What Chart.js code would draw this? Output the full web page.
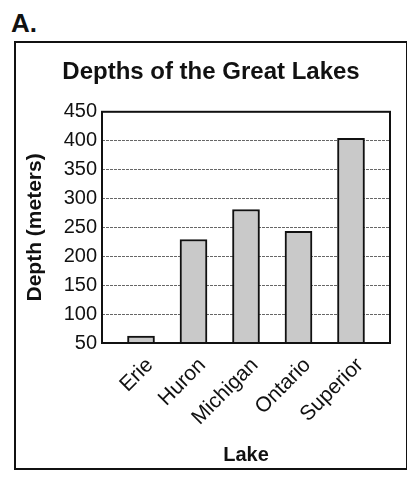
<!DOCTYPE html>
<html>
<head>
<meta charset="utf-8">
<script src="https://cdn.jsdelivr.net/npm/chart.js"></script>
<style>
    body { margin: 0; background: #fff; width: 407px; height: 477px; position: relative; overflow: hidden; }
    #label { position: absolute; left: 11px; top: 8px; font: bold 26px "Liberation Sans", Arial, sans-serif; color: #111; }
    #frame { position: absolute; left: 14px; top: 41px; width: 390px; height: 425px; border: 2px solid #111; }
</style>
</head>
<body>
<div id="label">A.</div>
<div id="frame"><canvas id="lakesChart" width="390" height="425"></canvas></div>
<script>
// data
const lakes = ['Erie', 'Huron', 'Michigan', 'Ontario', 'Superior'];
const depths = [62, 229, 281, 243, 404];
const yTicks = [50, 100, 150, 200, 250, 300, 350, 400, 450];

const fontFamily = '"Liberation Sans", Arial, sans-serif';

// black box round the plot area
const plotFrame = {
    id: 'plotFrame',
    afterDatasetsDraw(chart) {
        const { ctx, chartArea } = chart;
        ctx.save();
        ctx.strokeStyle = '#111';
        ctx.lineWidth = 2;
        ctx.strokeRect(chartArea.left, chartArea.top, chartArea.right - chartArea.left, chartArea.bottom - chartArea.top);
        ctx.restore();
    }
};

new Chart(document.getElementById('lakesChart'), {
    type: 'bar',
    data: {
        datasets: [{
            data: depths.map((d, i) => ({ x: i, y: d })),
            backgroundColor: '#c9c9c9',
            borderColor: '#111',
            borderWidth: 2,
            borderSkipped: false,
            barThickness: 27
        }]
    },
    options: {
        responsive: false,
        animation: false,
        layout: { padding: { left: 16, right: 16, top: 0, bottom: 0 } },
        plugins: {
            legend: { display: false },
            tooltip: { enabled: false },
            title: {
                display: true,
                text: 'Depths of the Great Lakes',
                color: '#111',
                font: { family: fontFamily, size: 24, weight: 'bold' },
                padding: { top: 15, bottom: 25 }
            }
        },
        scales: {
            x: {
                type: 'linear',
                offset: false,
                min: -0.743,
                max: 4.743,
                afterBuildTicks(scale) {
                    scale.ticks = lakes.map((_, i) => ({ value: i }));
                },
                afterFit(scale) { scale.height = 125; },
                grid: { display: false, drawTicks: false },
                border: { display: false },
                ticks: {
                    autoSkip: false,
                    minRotation: 45,
                    maxRotation: 45,
                    padding: 10,
                    labelOffset: 9,
                    color: '#111',
                    font: { family: fontFamily, size: 21 },
                    callback: (v) => lakes[v]
                },
                title: {
                    display: true,
                    text: 'Lake',
                    color: '#111',
                    font: { family: fontFamily, size: 20, weight: 'bold' },
                    padding: { top: 4, bottom: 1 }
                }
            },
            y: {
                min: 50,
                max: 450,
                afterBuildTicks(scale) {
                    scale.ticks = yTicks.map(v => ({ value: v }));
                },
                afterFit(scale) { scale.width = 70; },
                grid: { color: '#666', lineWidth: 1, drawTicks: false },
                border: { display: false, dash: [3, 1] },
                ticks: {
                    padding: 5,
                    color: '#111',
                    font: { family: fontFamily, size: 20 }
                },
                title: {
                    display: true,
                    text: 'Depth (meters)',
                    color: '#111',
                    font: { family: fontFamily, size: 21, weight: 'bold' },
                    padding: { top: -9, bottom: 2 }
                }
            }
        }
    },
    plugins: [plotFrame]
});
</script>
</body>
</html>
